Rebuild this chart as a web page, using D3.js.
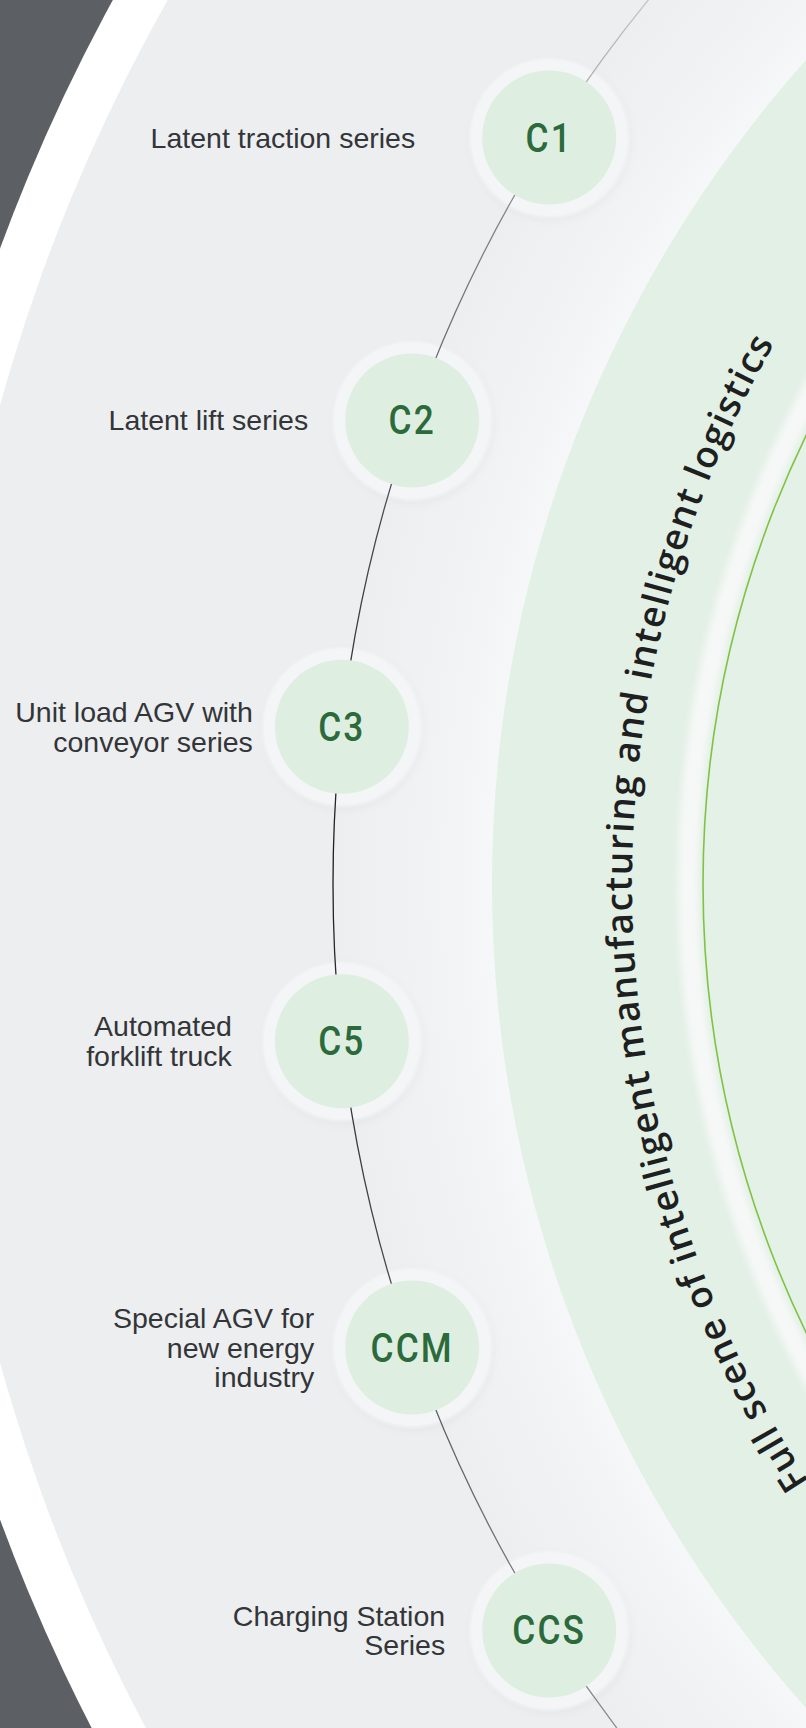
<!DOCTYPE html>
<html lang="en">
<head>
<meta charset="UTF-8">
<title>AGV series</title>
<script src="https://cdnjs.cloudflare.com/ajax/libs/d3/7.8.5/d3.min.js"></script>
<style>
  body { margin: 0; background: #5c5f63; }
  svg { display: block; }
  .label { font-family: "Liberation Sans", Arial, sans-serif; font-size: 28.5px; fill: #333538; }
  .code { font-family: Roboto, "DejaVu Sans", sans-serif; font-weight: 500; font-size: 41px; fill: #2c6a3b; }
  .arc-title { font-family: "Open Sans", sans-serif; font-weight: 600; font-size: 37px; fill: #1e1f20; }
</style>
</head>
<body>
<svg id="chart" width="806" height="1728"></svg>
<script>
// series codes shown in the bubbles, top to bottom
var codes = ["C1", "C2", "C3", "C5", "CCM", "CCS"];
// description next to each bubble (one entry per line)
var labels = [
    ["Latent traction series"],
    ["Latent lift series"],
    ["Unit load AGV with", "conveyor series"],
    ["Automated", "forklift truck"],
    ["Special AGV for", "new energy", "industry"],
    ["Charging Station", "Series"]
];
var title = "Full scene of intelligent manufacturing and intelligent logistics";

// layout (all rings share one centre off to the right)
var W = 806, H = 1728;
var cx = 1730, cy = 884;
var rWhite = 1843, rGray = 1795, rGlow = 1400, rLine = 1397;
var rGreen = 1238, rBand = 1042, rGreenLine = 1027, rText = 1098;
var nodeR = 67, haloR = 79;
var labelGap = [134, 104, 89, 110, 98, 104];
var lineH = 29.5;

var svg = d3.select("#chart");
var defs = svg.append("defs");

var glow = defs.append("radialGradient")
    .attr("id", "glow").attr("gradientUnits", "userSpaceOnUse")
    .attr("cx", cx).attr("cy", cy).attr("r", rGlow);
glow.append("stop").attr("offset", rGreen / rGlow).attr("stop-color", "#f6f7f8");
glow.append("stop").attr("offset", (rGreen + 50) / rGlow).attr("stop-color", "#f1f3f4");
glow.append("stop").attr("offset", 1).attr("stop-color", "#eceef0");

var lineGrad = defs.append("linearGradient")
    .attr("id", "lineGrad").attr("gradientUnits", "userSpaceOnUse")
    .attr("x1", 0).attr("y1", 0).attr("x2", 0).attr("y2", H);
[[0, "#c4c6c8"], [0.1, "#8d8f91"], [0.3, "#4a4c4e"], [0.5, "#1c1d1e"], [0.75, "#4a4c4e"], [1, "#8d8f91"]]
    .forEach(function(s) { lineGrad.append("stop").attr("offset", s[0]).attr("stop-color", s[1]); });

var shadow = defs.append("filter").attr("id", "shadow")
    .attr("x", "-30%").attr("y", "-30%").attr("width", "160%").attr("height", "160%");
shadow.append("feGaussianBlur").attr("in", "SourceGraphic").attr("stdDeviation", 1.2).attr("result", "b");
shadow.append("feDropShadow").attr("in", "b").attr("dx", 2).attr("dy", 3).attr("stdDeviation", 4)
    .attr("flood-color", "#000").attr("flood-opacity", 0.04);

var soft = defs.append("filter").attr("id", "soft");
soft.append("feGaussianBlur").attr("stdDeviation", 3);

// background rings
svg.append("rect").attr("width", W).attr("height", H).attr("fill", "#5c5f63");
svg.append("circle").attr("cx", cx).attr("cy", cy).attr("r", rWhite).attr("fill", "#ffffff");
svg.append("circle").attr("cx", cx).attr("cy", cy).attr("r", rGray).attr("fill", "#eceef0");
svg.append("circle").attr("cx", cx).attr("cy", cy).attr("r", rGlow).attr("fill", "url(#glow)");
svg.append("circle").attr("cx", cx).attr("cy", cy).attr("r", rGreen).attr("fill", "#e3f0e6");
svg.append("circle").attr("cx", cx).attr("cy", cy).attr("r", rBand)
    .attr("fill", "none").attr("stroke", "#f6f8f7").attr("stroke-width", 20).attr("filter", "url(#soft)");
svg.append("circle").attr("cx", cx).attr("cy", cy).attr("r", rGreenLine - 1).attr("fill", "#e4f1e7");
svg.append("circle").attr("cx", cx).attr("cy", cy).attr("r", rGreenLine)
    .attr("fill", "none").attr("stroke", "#80c244").attr("stroke-width", 1.6);

// curved title along the green band
var a0 = 33 * Math.PI / 180, a1 = -29.5 * Math.PI / 180;
var tp = d3.path();
tp.arc(cx, cy, rText, Math.PI - a0, Math.PI - a1, false);
defs.append("path").attr("id", "titleArc").attr("d", tp.toString());

var titleText = svg.append("text").attr("class", "arc-title");
titleText.append("textPath").attr("href", "#titleArc").text(title);
var target = (a0 - a1) * rText;
var natural = titleText.node().getComputedTextLength();
titleText.attr("letter-spacing", ((target - natural) / (title.length - 1)).toFixed(2));

// nodes on the arc
var angle = d3.scalePoint().domain(codes).range([-32.3, 32.3]);
var nodes = codes.map(function(c, i) {
    var a = angle(c) * Math.PI / 180;
    return { code: c, lines: labels[i], gap: labelGap[i],
             x: cx - rLine * Math.cos(a), y: cy + rLine * Math.sin(a) };
});

svg.selectAll("circle.halo").data(nodes).enter().append("circle")
    .attr("class", "halo")
    .attr("cx", function(d) { return d.x; }).attr("cy", function(d) { return d.y; })
    .attr("r", haloR).attr("fill", "#f4f5f6").attr("filter", "url(#shadow)");

svg.append("circle").attr("cx", cx).attr("cy", cy).attr("r", rLine)
    .attr("fill", "none").attr("stroke", "url(#lineGrad)").attr("stroke-width", 1.3);

svg.selectAll("circle.node").data(nodes).enter().append("circle")
    .attr("class", "node")
    .attr("cx", function(d) { return d.x; }).attr("cy", function(d) { return d.y; })
    .attr("r", nodeR).attr("fill", "#deefe2");

svg.selectAll("text.code").data(nodes).enter().append("text")
    .attr("class", "code")
    .attr("transform", function(d) { return "translate(" + d.x + "," + (d.y + 14) + ") scale(0.86,1)"; })
    .attr("text-anchor", "middle")
    .attr("letter-spacing", 2.5)
    .text(function(d) { return d.code; });

var lab = svg.selectAll("text.label").data(nodes).enter().append("text")
    .attr("class", "label")
    .attr("text-anchor", "end");
lab.each(function(d) {
    var t = d3.select(this);
    var first = d.y - (d.lines.length - 1) * lineH / 2 + 10;
    d.lines.forEach(function(line, k) {
        t.append("tspan").attr("x", d.x - d.gap).attr("y", first + k * lineH).text(line);
    });
});
</script>
</body>
</html>
